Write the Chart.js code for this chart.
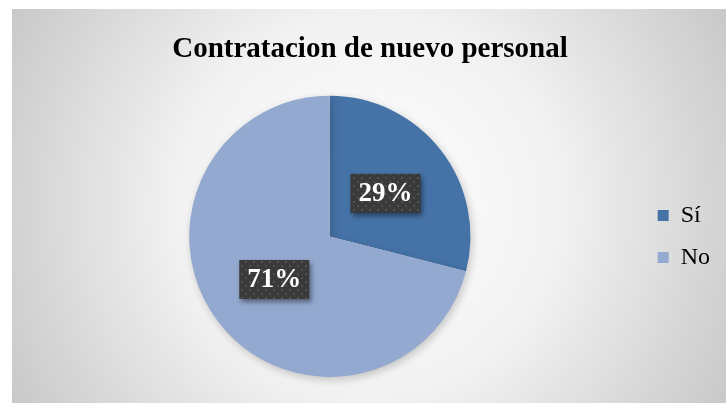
<!DOCTYPE html>
<html><head><meta charset="utf-8">
<script src="https://cdn.jsdelivr.net/npm/chart.js@4/dist/chart.umd.min.js"></script>
<style>html,body{margin:0;padding:0;background:#fff;}#wrap{width:726px;height:403px;}</style>
</head><body><div id="wrap"><canvas id="c" width="726" height="403"></canvas></div>
<script>
const categories = ["Sí", "No"];
const values = [29, 71];
const labelsText = ["29%", "71%"];
const titleText = "Contratacion de nuevo personal";
const colors = ["#4573a7", "#94a9d0"];

const bgPlugin = {
  id: 'bg',
  beforeDraw(chart) {
    const ctx = chart.ctx;
    ctx.save();
    ctx.fillStyle = '#ffffff';
    ctx.fillRect(0, 0, chart.width, chart.height);
    const x0 = 12, y0 = 9, x1 = chart.width, y1 = chart.height;
    const cx = 369, cy = 206;
    const g = ctx.createRadialGradient(cx, cy, 0, cx, cy, 420);
    g.addColorStop(0, '#ffffff');
    g.addColorStop(0.45, '#f2f2f2');
    g.addColorStop(1, '#c6c6c6');
    ctx.fillStyle = g;
    ctx.fillRect(x0, y0, x1 - x0, y1 - y0);
    ctx.restore();
  }
};

const shadowPlugin = {
  id: 'pieShadow',
  beforeDatasetDraw(chart) {
    const ctx = chart.ctx;
    ctx.save();
    ctx.shadowColor = 'rgba(0,0,0,0.2)';
    ctx.shadowBlur = 8;
    ctx.shadowOffsetX = 2;
    ctx.shadowOffsetY = 3;
  },
  afterDatasetDraw(chart) {
    chart.ctx.restore();
  }
};

function makePattern() {
  const p = document.createElement('canvas');
  p.width = 8; p.height = 8;
  const c = p.getContext('2d');
  c.fillStyle = '#3a3a3a';
  c.fillRect(0, 0, 8, 8);
  c.fillStyle = '#505050';
  c.fillRect(1, 1, 2, 2);
  c.fillRect(5, 5, 2, 2);
  return p;
}

const labelPlugin = {
  id: 'boxLabels',
  afterDatasetsDraw(chart) {
    const ctx = chart.ctx;
    const meta = chart.getDatasetMeta(0);
    const pat = ctx.createPattern(makePattern(), 'repeat');
    meta.data.forEach((arc, i) => {
      const pos = arc.tooltipPosition();
      const w = 70, h = 39;
      ctx.save();
      ctx.shadowColor = 'rgba(0,0,0,0.45)';
      ctx.shadowBlur = 5;
      ctx.shadowOffsetX = 2;
      ctx.shadowOffsetY = 3;
      ctx.fillStyle = pat;
      ctx.fillRect(pos.x - w / 2, pos.y - h / 2, w, h);
      ctx.restore();
      ctx.save();
      ctx.fillStyle = '#ffffff';
      ctx.font = 'bold 27px "Liberation Serif"';
      ctx.textAlign = 'center';
      ctx.textBaseline = 'middle';
      ctx.fillText(labelsText[i], pos.x, pos.y + 1);
      ctx.restore();
    });
  }
};

new Chart(document.getElementById('c'), {
  type: 'pie',
  data: {
    labels: categories,
    datasets: [{
      data: values,
      backgroundColor: colors,
      borderWidth: 0
    }]
  },
  options: {
    responsive: false,
    animation: false,
    layout: { padding: { top: 32, bottom: 26, left: 20, right: 6 } },
    plugins: {
      title: {
        display: true,
        text: titleText,
        color: '#000000',
        font: { family: '"Liberation Serif"', size: 29, weight: 'bold' },
        padding: { top: 0, bottom: 29 }
      },
      legend: {
        position: 'right',
        fullSize: false,
        labels: {
          color: '#000000',
          font: { family: '"Liberation Serif"', size: 24 },
          boxWidth: 11,
          boxHeight: 11,
          padding: 18
        }
      },
      tooltip: { enabled: false }
    }
  },
  plugins: [bgPlugin, shadowPlugin, labelPlugin]
});
</script>
</body></html>
